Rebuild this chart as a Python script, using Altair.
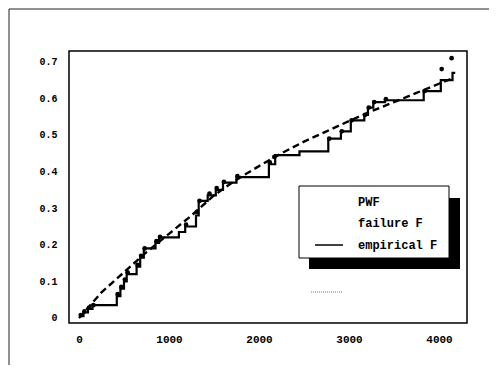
import altair as alt
import pandas as pd

# empirical F (step function)
step_x = [0, 50, 100, 150, 420, 460, 500, 530, 640, 680, 720, 850, 890, 1110, 1180,
          1300, 1330, 1430, 1520, 1600, 1750, 2110, 2180, 2450, 2770, 2910, 3020,
          3170, 3210, 3270, 3400, 3830, 4020, 4150, 4180]
step_y = [0.005, 0.015, 0.025, 0.035, 0.06, 0.08, 0.10, 0.12, 0.14, 0.165, 0.19, 0.205,
          0.22, 0.235, 0.25, 0.28, 0.32, 0.335, 0.35, 0.37, 0.385, 0.42, 0.445, 0.455,
          0.49, 0.51, 0.54, 0.555, 0.575, 0.59, 0.595, 0.62, 0.65, 0.67, 0.67]

# PWF points
pwf_x = [20, 60, 110, 160, 430, 470, 510, 540, 650, 690, 730, 860, 900, 1190, 1310,
         1340, 1450, 1530, 1610, 1760, 2120, 2170, 2780, 2920, 3030, 3180, 3220, 3280,
         3410, 3840, 4030, 4140]
pwf_y = [0.008, 0.018, 0.028, 0.035, 0.065, 0.085, 0.105, 0.125, 0.145, 0.17, 0.19,
         0.21, 0.222, 0.255, 0.29, 0.32, 0.34, 0.355, 0.372, 0.388, 0.425, 0.44, 0.49,
         0.51, 0.54, 0.555, 0.575, 0.59, 0.598, 0.62, 0.68, 0.71]

# failure F (smooth dashed curve)
fail_x = [0, 250, 500, 750, 1000, 1250, 1500, 1750, 2000, 2250, 2500, 2750, 3000,
          3250, 3500, 3750, 4000, 4150]
fail_y = [0.0, 0.07, 0.125, 0.18, 0.23, 0.28, 0.335, 0.378, 0.415, 0.45, 0.482, 0.51,
          0.538, 0.565, 0.59, 0.615, 0.64, 0.655]

legend_labels = ["PWF", "failure F", "empirical F"]
x_ticks = [0, 1000, 2000, 3000, 4000]
y_ticks = [0, 0.1, 0.2, 0.3, 0.4, 0.5, 0.6, 0.7]

FONT = "Liberation Mono"

xs = alt.Scale(domain=[-111, 4311], nice=False, zero=False)
ys = alt.Scale(domain=[-0.0137, 0.7295], nice=False, zero=False)

x_axis = alt.Axis(values=x_ticks, title=None, grid=False, domain=False, tickSize=0,
                  labelPadding=10, labelFont=FONT, labelFontSize=11, labelFontWeight="bold",
                  labelColor="black", format="d", labelOverlap=False)
y_axis = alt.Axis(values=y_ticks, title=None, grid=False, domain=False, tickSize=0,
                  labelPadding=12, labelFont=FONT, labelFontSize=10, labelFontWeight="bold",
                  labelColor="black", labelOverlap=False,
                  labelExpr="datum.value == 0 ? '0' : format(datum.value, '.1f')")

step_df = pd.DataFrame({"x": step_x, "y": step_y})
pwf_df = pd.DataFrame({"x": pwf_x, "y": pwf_y})
fail_df = pd.DataFrame({"x": fail_x, "y": fail_y})

X = alt.X("x:Q", scale=xs, axis=x_axis)
Y = alt.Y("y:Q", scale=ys, axis=y_axis)

step = alt.Chart(step_df).mark_line(interpolate="step-after", color="black",
                                    strokeWidth=2.2).encode(x=X, y=Y)
fail = alt.Chart(fail_df).mark_line(color="black", strokeWidth=2.4,
                                    strokeDash=[7, 4]).encode(x=X, y=Y)
pwf = alt.Chart(pwf_df).mark_circle(color="black", size=22, opacity=1).encode(x=X, y=Y)

# outer page frame (top and left edges)
frame_top = alt.Chart().mark_rule(color="#222", strokeWidth=1).encode(
    x=alt.value(-60), x2=alt.value(420), y=alt.value(-42))
frame_left = alt.Chart().mark_rule(color="#222", strokeWidth=1).encode(
    x=alt.value(-60), y=alt.value(-42), y2=alt.value(314))

# legend box with shadow
shadow = alt.Chart().mark_rect(color="black").encode(
    x=alt.value(240), x2=alt.value(391), y=alt.value(147), y2=alt.value(218))
box = alt.Chart().mark_rect(fill="white", stroke="black", strokeWidth=1).encode(
    x=alt.value(230), x2=alt.value(380), y=alt.value(135), y2=alt.value(207))
legend_texts = []
for lab, yy in zip(legend_labels, [151, 172, 194]):
    legend_texts.append(
        alt.Chart().mark_text(text=lab, font=FONT, fontSize=12, fontWeight="bold",
                              align="left", baseline="middle", color="black").encode(
            x=alt.value(289), y=alt.value(yy)))
sample = alt.Chart().mark_rule(color="black", strokeWidth=1.5).encode(
    x=alt.value(246), x2=alt.value(274), y=alt.value(194))
dotted = alt.Chart().mark_rule(color="#777", strokeWidth=1, strokeDash=[1, 1]).encode(
    x=alt.value(242), x2=alt.value(274), y=alt.value(241))

chart = alt.layer(frame_top, frame_left, fail, step, pwf, shadow, box, sample, dotted,
                  *legend_texts).properties(
    width=398, height=272, padding=0, background="white"
).configure_view(stroke="black", strokeWidth=1.5)

chart.save("out.html", embed_options={"renderer": "svg", "actions": False})
